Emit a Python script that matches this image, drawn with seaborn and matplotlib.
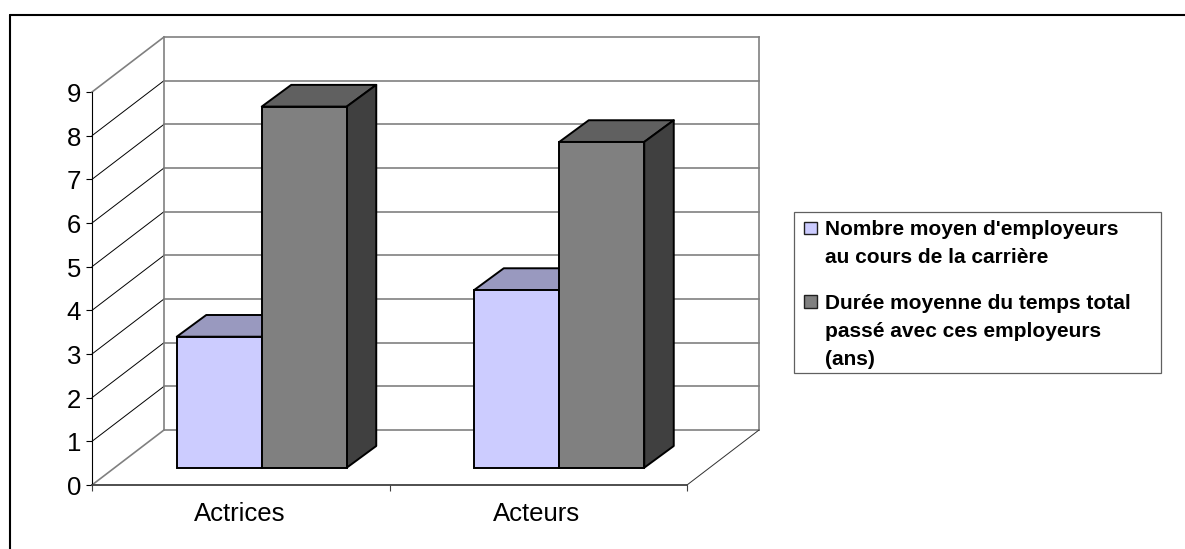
import matplotlib
matplotlib.use("Agg")
import matplotlib.pyplot as plt
from matplotlib.lines import Line2D
from matplotlib.patches import Polygon, Rectangle
from matplotlib.transforms import Affine2D
import numpy as np
import pandas as pd
import seaborn as sns

groupes = ["Actrices", "Acteurs"]
serie_a = "Nombre moyen d'employeurs\nau cours de la carrière"
serie_b = "Durée moyenne du temps total\npassé avec ces employeurs\n(ans)"
valeurs_a = [3.0, 4.07]
valeurs_b = [8.27, 7.46]
graduations = list(range(10))

W, H = 1185, 549
sns.set_theme(style="white")
plt.rcParams["font.family"] = ["Liberation Sans", "DejaVu Sans"]

df = pd.DataFrame({
    "groupe": groupes * 2,
    "serie": [serie_a] * 2 + [serie_b] * 2,
    "valeur": valeurs_a + valeurs_b,
})

fig = plt.figure(figsize=(W / 100, H / 100), dpi=100, facecolor="white")


def box(left, bottom_y, width, height):
    return [left / W, 1 - bottom_y / H, width / W, height / H]


ax_front = fig.add_axes(box(92, 485, 595, 393))
ax_bars = fig.add_axes(box(113, 467.7, 595, 393))
for ax in (ax_front, ax_bars):
    ax.set_xlim(-0.5, 1.5)
    ax.set_ylim(0, 9)
    ax.patch.set_alpha(0)

px_x = 2 / 595
px_y = 9 / 393

# axes
sns.despine(ax=ax_front)
ax_front.spines["left"].set_color("black")
ax_front.spines["left"].set_linewidth(0.8)
ax_front.spines["bottom"].set_color("#404040")
ax_front.spines["bottom"].set_linewidth(1.3)
ax_front.set_yticks(graduations)
ax_front.set_yticklabels([str(g) for g in graduations], fontsize=18.5, color="black")
ax_front.set_xticks([-0.5, 0.5, 1.5])
ax_front.set_xticklabels([])
ax_front.set_xticks([0, 1], labels=groupes, minor=True)
ax_front.tick_params(axis="y", left=True, length=4.3, width=0.8, pad=3.6, color="black")
ax_front.tick_params(axis="x", which="major", bottom=True, length=4.3, width=0.8, color="#404040")
ax_front.tick_params(axis="x", which="minor", bottom=False, length=0, pad=12, labelsize=18.5, labelcolor="black")
for lab in ax_front.get_yticklabels():
    lab.set_transform(lab.get_transform() + Affine2D().translate(0, -0.5))
for lab in ax_front.get_xticklabels(minor=True):
    lab.set_transform(lab.get_transform() + Affine2D().translate(-1.5, 0))

# walls
dx, dy = 72 * px_x, 55 * px_y
x0, x1 = -0.5, 1.5
gris = dict(color="#808080", lw=1.2, clip_on=False, solid_capstyle="projecting")
for g in graduations:
    ax_front.plot([x0 + dx, x1 + dx], [g + dy, g + dy], zorder=1, **gris)
    if g in (graduations[0], graduations[-1]):
        ax_front.plot([x0, x0 + dx], [g, g + dy], zorder=1, **gris)
    else:
        ax_front.plot([x0, x0 + dx], [g, g + dy], color="black", lw=0.7, clip_on=False, zorder=1)
ax_front.plot([x0 + dx] * 2, [dy, 9 + dy], zorder=1, **gris)
ax_front.plot([x1 + dx] * 2, [dy, 9 + dy], zorder=1, **gris)
ax_front.plot([x1, x1 + dx], [0, dy], color="#303030", lw=0.7, clip_on=False, zorder=1)

# bars
sns.barplot(
    data=df, x="groupe", y="valeur", hue="serie",
    palette={serie_a: "#CCCCFF", serie_b: "#808080"},
    width=170 / 297.5, gap=0, dodge=True, saturation=1,
    edgecolor="black", linewidth=1.4, ax=ax_bars, zorder=3,
)
ax_bars.set_xlim(-0.5, 1.5)
ax_bars.set_ylim(0, 9)

ddx, ddy = 29.5 * px_x, 21.7 * px_y
for p in list(ax_bars.patches):
    x, w, h = p.get_x(), p.get_width(), p.get_height()
    if h <= 0:
        continue
    r, g, b, _ = p.get_facecolor()
    base = np.array([r, g, b])
    top = Polygon([(x, h), (x + w, h), (x + w + ddx, h + ddy), (x + ddx, h + ddy)],
                  closed=True, facecolor=base * 0.75, edgecolor="black", lw=1.4,
                  joinstyle="round", clip_on=False, zorder=2)
    side = Polygon([(x + w, 0), (x + w + ddx, ddy), (x + w + ddx, h + ddy), (x + w, h)],
                   closed=True, facecolor=base * 0.5, edgecolor="black", lw=1.4,
                   joinstyle="round", clip_on=False, zorder=2)
    ax_bars.add_patch(top)
    ax_bars.add_patch(side)
    p.set_clip_on(False)

# legend
FS = 15
FPX = FS * 100 / 72
handles, labels = ax_bars.get_legend_handles_labels()
leg = ax_bars.legend(
    handles, labels, loc="upper left",
    bbox_to_anchor=(804 / W, 1 - 220 / H), bbox_transform=fig.transFigure,
    frameon=False, borderpad=0, borderaxespad=0,
    handlelength=13 / FPX, handleheight=12 / FPX,
    handletextpad=8 / FPX, labelspacing=1.28, prop={"weight": "bold", "size": FS},
)
ax_bars.axis("off")
for t in leg.get_texts():
    t.set_linespacing(1.6)
    t.set_color("black")
fig.canvas.draw()
renderer = fig.canvas.get_renderer()
for hd, t in zip(leg.legend_handles, leg.get_texts()):
    hd.set_edgecolor("#202020")
    hd.set_linewidth(1.0)
    te = t.get_window_extent(renderer)
    he = hd.get_window_extent(renderer)
    # swatch sits beside the first line of its entry
    wanted = te.y1 - 8
    hd.set_y(hd.get_y() + (wanted - (he.y0 + he.y1) / 2) * 0.72)

fig.add_artist(Rectangle((794 / W, 1 - 373 / H), 367 / W, 161 / H, transform=fig.transFigure,
                         facecolor="none", edgecolor="#606060", lw=0.9))
# outer chart frame (open at right and bottom)
fig.add_artist(Line2D([9.5 / W, 9.5 / W], [0, 1 - 14.5 / H], color="black", lw=1.5, transform=fig.transFigure))
fig.add_artist(Line2D([9.5 / W, 1], [1 - 14.5 / H] * 2, color="black", lw=1.5, transform=fig.transFigure))

fig.savefig("out.png", dpi=100, facecolor="white")
